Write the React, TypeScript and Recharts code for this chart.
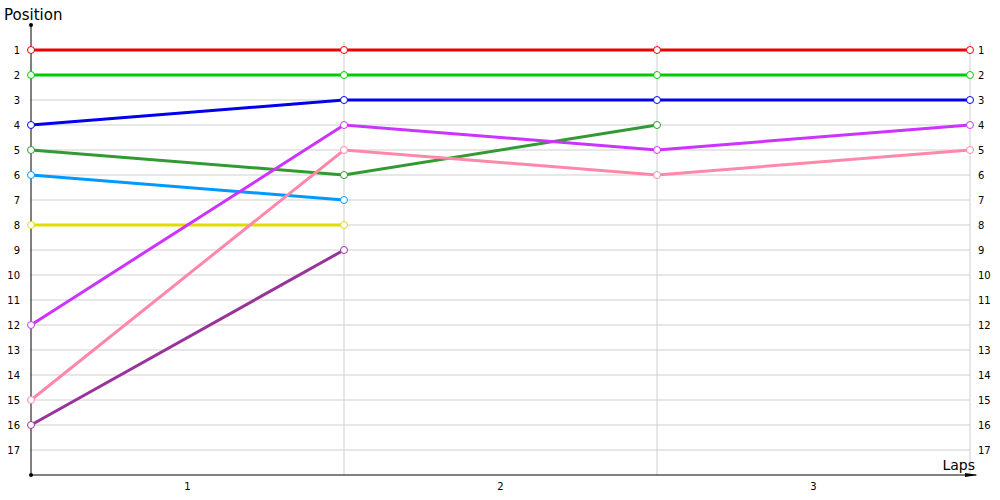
import { LineChart, Line, XAxis, YAxis, ReferenceLine, ReferenceDot } from 'recharts';

const laps = [0, 1, 2, 3];
const lapLabelTicks = [0.5, 1.5, 2.5];
const positionTicks = [1, 2, 3, 4, 5, 6, 7, 8, 9, 10, 11, 12, 13, 14, 15, 16, 17];

const red = [1, 1, 1, 1];
const green = [2, 2, 2, 2];
const blue = [4, 3, 3, 3];
const darkGreen = [5, 6, 4, null];
const lightBlue = [6, 7, null, null];
const yellow = [8, 8, null, null];
const magenta = [12, 4, 5, 4];
const pink = [15, 5, 6, 5];
const purple = [16, 9, null, null];

const series = [
  { key: 'red', values: red, color: '#ee0000' },
  { key: 'green', values: green, color: '#00cc00' },
  { key: 'blue', values: blue, color: '#0000ee' },
  { key: 'darkGreen', values: darkGreen, color: '#339933' },
  { key: 'lightBlue', values: lightBlue, color: '#0099ff' },
  { key: 'yellow', values: yellow, color: '#dddd00' },
  { key: 'magenta', values: magenta, color: '#cc33ff' },
  { key: 'pink', values: pink, color: '#ff88aa' },
  { key: 'purple', values: purple, color: '#993399' },
];

const rows = laps.map((lap, i) => {
  const row: Record<string, number | null> = { lap };
  series.forEach(s => { row[s.key] = s.values[i]; });
  return row;
});

const font = '"DejaVu Sans", Verdana, sans-serif';
const gridColor = '#cfcfcf';

const AxisArrow = (props: any) => {
  const { cx, cy } = props;
  return (
    <g>
      <line x1={cx} y1={cy} x2={cx + 6} y2={cy} stroke="#000" strokeWidth={1} />
      <path d={`M${cx - 5},${cy - 2} L${cx + 8},${cy} L${cx - 5},${cy + 2} Z`} fill="#000" />
      <text x={cx + 5} y={cy - 5} textAnchor="end" fontSize={14} fontFamily={font} fill="#000">Laps</text>
    </g>
  );
};

const SmallDot = (props: any) => <circle cx={props.cx} cy={props.cy} r={2} fill="#000" />;

export default function App() {
  return (
    <div style={{ position: 'absolute', left: 0, top: 0, width: 1000, height: 500, background: '#fff' }}>
      <div style={{ position: 'absolute', left: 4, top: 6, fontFamily: font, fontSize: 15, color: '#000' }}>Position</div>
      <LineChart width={1000} height={500} data={rows} margin={{ top: 25, right: 0, bottom: 0, left: 0 }}>
        <XAxis
          dataKey="lap"
          type="number"
          domain={[0, 3]}
          ticks={lapLabelTicks}
          tickFormatter={(v: number) => String(Math.ceil(v))}
          height={25}
          axisLine={{ stroke: '#000' }}
          tickLine={false}
          tick={{ fontSize: 10, fill: '#000', fontFamily: font }}
          interval={0}
        />
        <YAxis
          yAxisId="left"
          type="number"
          domain={[0, 18]}
          allowDataOverflow
          reversed
          ticks={positionTicks}
          interval={0}
          width={31}
          axisLine={{ stroke: '#000' }}
          tickLine={false}
          tickMargin={5}
          tick={{ fontSize: 10, fill: '#000', fontFamily: font }}
        />
        <YAxis
          yAxisId="right"
          orientation="right"
          type="number"
          domain={[0, 18]}
          allowDataOverflow
          reversed
          ticks={positionTicks}
          interval={0}
          width={30}
          axisLine={false}
          tickLine={false}
          tickMargin={2}
          tick={{ fontSize: 10, fill: '#000', fontFamily: font, textAnchor: 'start' }}
        />
        {positionTicks.map(t => (
          <ReferenceLine
            key={`h${t}`}
            yAxisId="left"
            segment={[{ x: 0, y: t }, { x: 3, y: t }]}
            stroke={gridColor}
          />
        ))}
        {laps.slice(1).map(l => (
          <ReferenceLine
            key={`v${l}`}
            yAxisId="left"
            segment={[{ x: l, y: 0.68 }, { x: l, y: 18 }]}
            stroke={gridColor}
          />
        ))}
        {series.map(s => (
          <Line
            key={s.key}
            yAxisId="left"
            dataKey={s.key}
            stroke={s.color}
            strokeWidth={3}
            dot={{ r: 3.5, fill: '#fff', stroke: s.color, strokeWidth: 1 }}
            activeDot={false}
            isAnimationActive={false}
          />
        ))}
        <ReferenceDot yAxisId="left" x={0} y={0} ifOverflow="visible" shape={SmallDot} />
        <ReferenceDot yAxisId="left" x={0} y={18} ifOverflow="visible" shape={SmallDot} />
        <ReferenceDot yAxisId="left" x={3} y={18} ifOverflow="visible" shape={AxisArrow} />
      </LineChart>
    </div>
  );
}
